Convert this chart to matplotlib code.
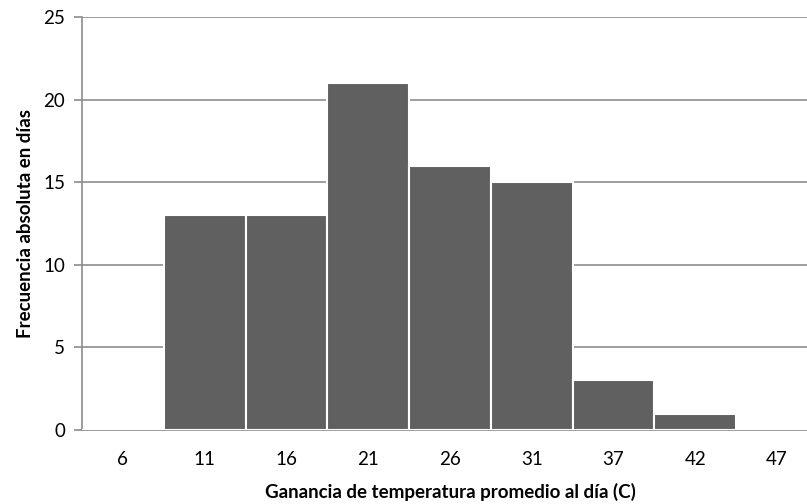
import matplotlib.pyplot as plt

plt.rcParams['font.family'] = ['Lato', 'DejaVu Sans']

categories = ["6", "11", "16", "21", "26", "31", "37", "42", "47"]
counts = [0, 13, 13, 21, 16, 15, 3, 1, 0]

fig, ax = plt.subplots(figsize=(8.07, 5.04), dpi=100)
# the plot area runs past the right edge of the picture, as in the original
fig.subplots_adjust(left=0.1016, right=1.0136, top=0.9657, bottom=0.1468)

x = range(len(categories))
ax.bar(x, counts, width=1.0, color="#606060", edgecolor="white", linewidth=1.5, zorder=3)

ax.set_xlim(-0.5, len(categories) - 0.5)
ax.set_ylim(0, 25)
ax.set_yticks(range(0, 26, 5))
ax.set_xticks(list(x))
ax.set_xticklabels(categories)

ax.yaxis.grid(True, color="#8c8c8c", linewidth=1.2, zorder=0)
ax.set_axisbelow(True)
for side in ["top", "right"]:
    ax.spines[side].set_visible(False)
ax.spines["left"].set_color("#8c8c8c")
ax.spines["bottom"].set_color("#8c8c8c")
ax.spines["left"].set_linewidth(1.2)
ax.spines["bottom"].set_linewidth(1.2)
ax.tick_params(axis="y", length=6, color="#8c8c8c", width=1.2, labelsize=13.5, pad=6)
ax.tick_params(axis="x", length=0, labelsize=13.5, pad=15)

ax.set_xlabel("Ganancia de temperatura promedio al día (C)", fontsize=13.5, fontweight="bold", labelpad=11)
ax.set_ylabel("Frecuencia absoluta en días", fontsize=13.5, fontweight="bold", labelpad=7)

fig.savefig("out.png")
